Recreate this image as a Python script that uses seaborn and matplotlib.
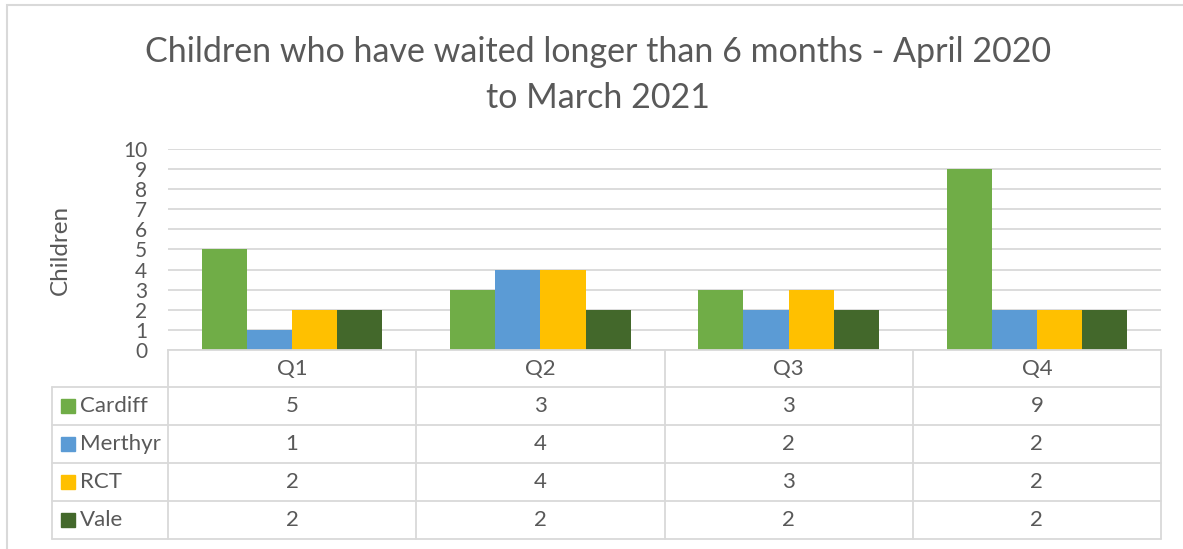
import numpy as np
import pandas as pd
import matplotlib
matplotlib.use("Agg")
import matplotlib.pyplot as plt
import seaborn as sns
from matplotlib.patches import Rectangle
from matplotlib.lines import Line2D
from matplotlib.transforms import blended_transform_factory

quarters = ["Q1", "Q2", "Q3", "Q4"]
areas = ["Cardiff", "Merthyr", "RCT", "Vale"]
cardiff = [5, 3, 3, 9]
merthyr = [1, 4, 2, 2]
rct = [2, 4, 3, 2]
vale = [2, 2, 2, 2]
colours = ["#70AD47", "#5B9BD5", "#FFC000", "#43682B"]

values = [cardiff, merthyr, rct, vale]
df = pd.DataFrame({
    "quarter": quarters * len(areas),
    "area": np.repeat(areas, len(quarters)),
    "children": np.concatenate(values),
})

sns.set_theme(style="white")
plt.rcParams["font.family"] = ["Lato", "DejaVu Sans"]
txt = "#595959"
grid = "#D9D9D9"

W, H = 1183, 549
fig = plt.figure(figsize=(W / 100, H / 100), dpi=100)


def fx(px):
    return px / W


def fy(py):
    return 1 - py / H


ax = fig.add_axes([fx(168), fy(350), fx(1161) - fx(168), fy(149) - fy(350)])
sns.barplot(data=df, x="quarter", y="children", hue="area", palette=colours,
            width=4 / 5.5, gap=0, saturation=1, ax=ax, legend=False,
            edgecolor="none", linewidth=0)
ax.set_ylim(0, 10)
ax.set_xlim(-0.5, 3.5)
ax.set_yticks(range(0, 11))
ax.yaxis.grid(True, color=grid, linewidth=1.3)
ax.set_axisbelow(True)
for s in ["top", "right", "left"]:
    ax.spines[s].set_visible(False)
ax.spines["bottom"].set_color(grid)
ax.spines["bottom"].set_linewidth(1.3)
ax.tick_params(axis="y", length=0, pad=15, labelsize=15, labelcolor=txt)
ax.set_xticks([])
ax.set_xlabel("")
ax.set_ylabel("")
fig.text(fx(60), fy(250), "Children", rotation=90, ha="center", va="center",
         fontsize=17.5, color=txt)

fig.text(fx(598), fy(75),
         "Children who have waited longer than 6 months - April 2020\nto March 2021",
         ha="center", va="center", fontsize=24.5, color=txt, linespacing=1.55)

# data table
tr = blended_transform_factory(ax.transData, fig.transFigure)
rows_px = [350, 387, 425, 463, 501, 539]
bounds = [-0.5, 0.5, 1.5, 2.5, 3.5]
for b in bounds:
    fig.add_artist(Line2D([b, b], [fy(350), fy(539)], transform=tr,
                          color=grid, lw=1.3))
for r in rows_px[1:]:
    fig.add_artist(Line2D([fx(52), fx(1161)], [fy(r), fy(r)],
                          transform=fig.transFigure, color=grid, lw=1.3))
fig.add_artist(Line2D([fx(52), fx(52)], [fy(387), fy(539)],
                      transform=fig.transFigure, color=grid, lw=1.3))

for i, q in enumerate(quarters):
    fig.text(i, fy((350 + 387) / 2), q, transform=tr, ha="center",
             va="center", fontsize=16, color=txt)
for j, (name, vals) in enumerate(zip(areas, values)):
    yc = (rows_px[j + 1] + rows_px[j + 2]) / 2
    fig.add_artist(Rectangle((fx(61), fy(yc + 7)), fx(14), fy(0) - fy(14),
                             transform=fig.transFigure, color=colours[j]))
    fig.text(fx(80), fy(yc), name, ha="left", va="center", fontsize=16,
             color=txt)
    for i, v in enumerate(vals):
        fig.text(i, fy(yc), str(v), transform=tr, ha="center", va="center",
                 fontsize=16, color=txt)

# chart border
fig.add_artist(Rectangle((fx(7), fy(560)), fx(1200), fy(5) - fy(560),
                         transform=fig.transFigure, fill=False,
                         edgecolor=grid, lw=1.5))

fig.savefig("out.png", dpi=100)
